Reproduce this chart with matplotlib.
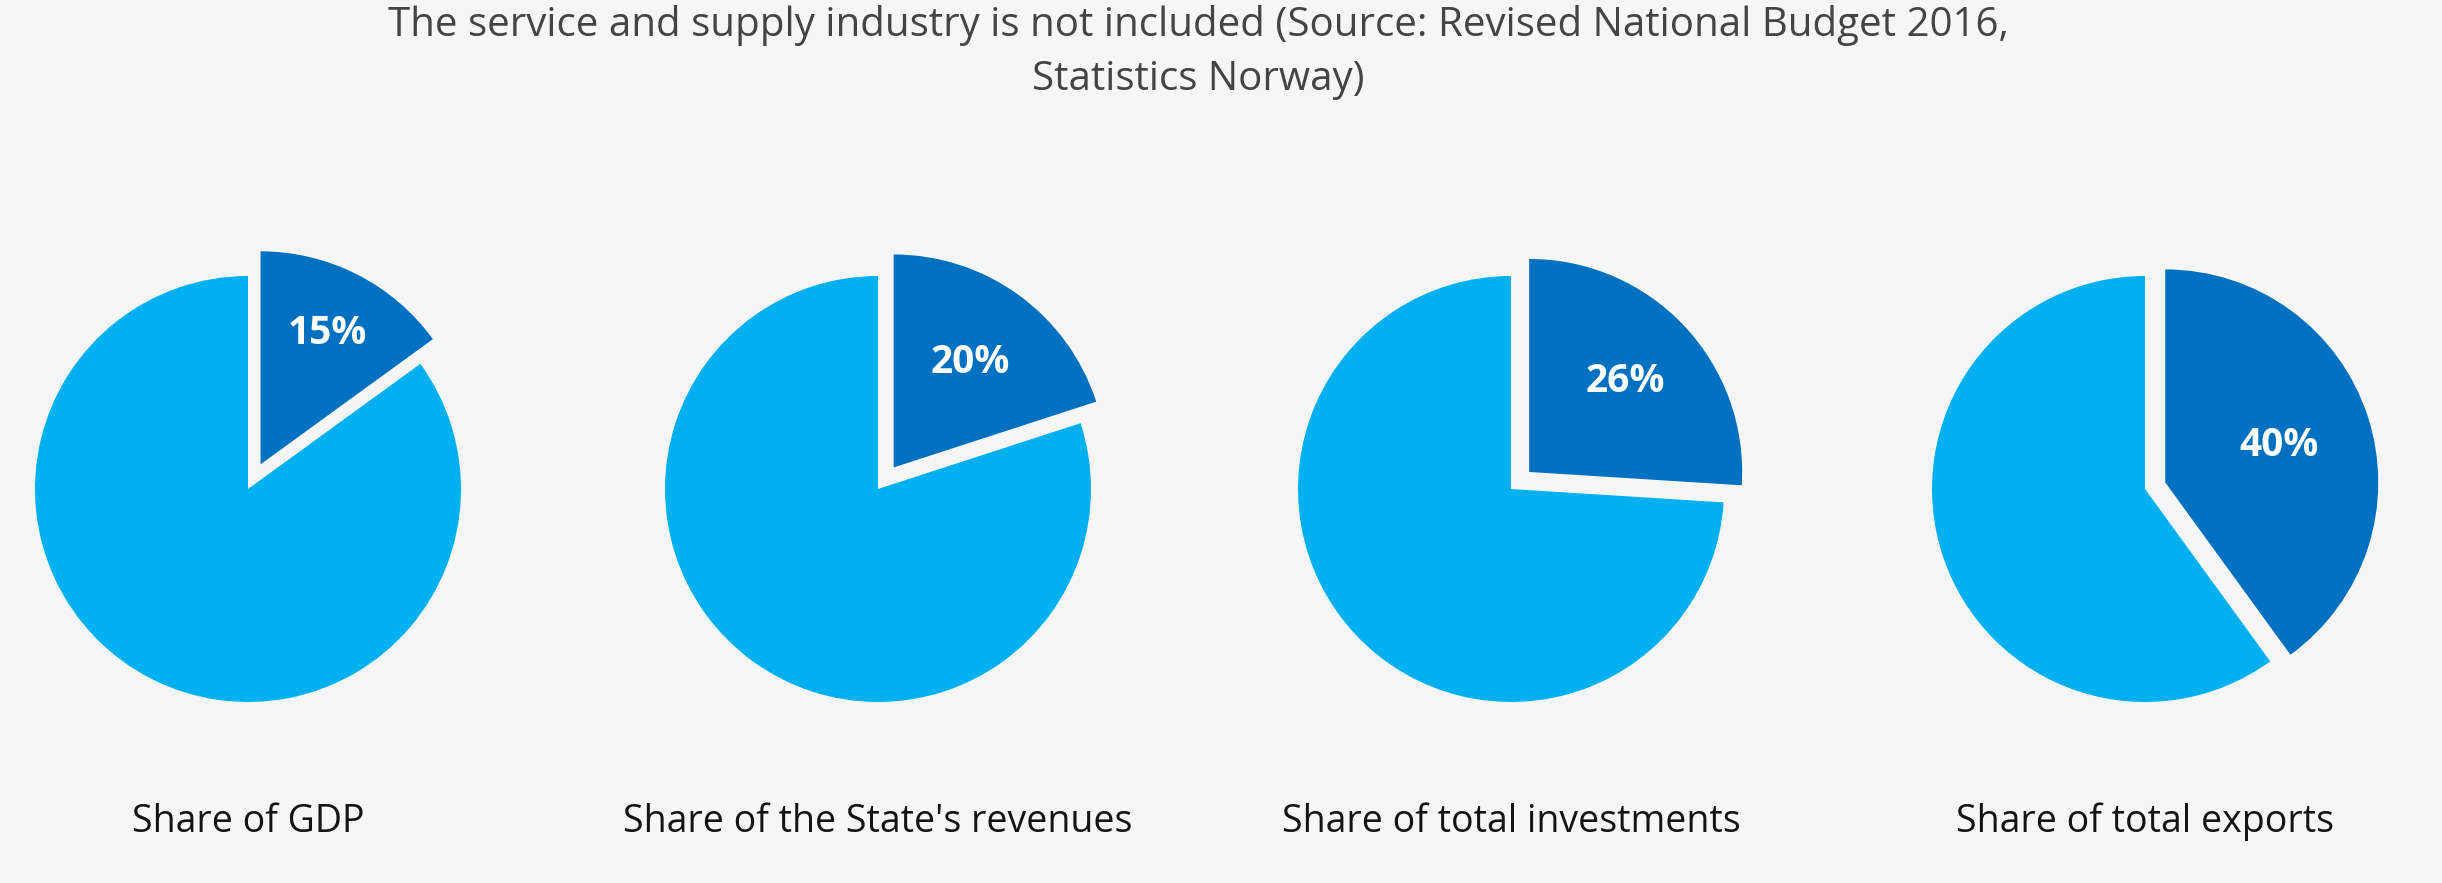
import matplotlib
matplotlib.use("Agg")
import matplotlib.pyplot as plt

# ---- data ----
shares = [15, 20, 26, 40]
categories = ["Share of GDP", "Share of the State's revenues",
              "Share of total investments", "Share of total exports"]
title_lines = ["The service and supply industry is not included (Source: Revised National Budget 2016,",
               "Statistics Norway)"]

# ---- style / layout ----
W, H = 2442, 883
BG = "#f6f6f6"
DARK = "#0070c0"
LIGHT = "#00b0f0"
explode_frac = [0.13, 0.125, 0.117, 0.10]
pct_dist = [0.69, 0.61, 0.62, 0.56]
centers_x = [248, 878, 1511, 2145]
center_y = 489
R = 213
LIM = 1.3

plt.rcParams['font.family'] = ['Open Sans', 'DejaVu Sans']
fig = plt.figure(figsize=(W / 100, H / 100), dpi=100, facecolor=BG)

side = 2 * R * LIM
for i, v in enumerate(shares):
    cx = centers_x[i]
    ax = fig.add_axes([(cx - side / 2) / W, (H - center_y - side / 2) / H, side / W, side / H])
    ax.set_facecolor(BG)
    ax.patch.set_alpha(0)
    wedges, texts, autotexts = ax.pie(
        [v, 100 - v], startangle=90, counterclock=False,
        colors=[DARK, LIGHT], explode=[explode_frac[i], 0],
        autopct=lambda p: f"{p:.0f}%", pctdistance=pct_dist[i],
        textprops=dict(color="white", fontsize=28, fontweight="bold"),
        wedgeprops=dict(linewidth=0))
    autotexts[1].set_text("")
    ax.set_xlim(-LIM, LIM)
    ax.set_ylim(-LIM, LIM)
    ax.set_aspect("equal")
    ax.axis("off")
    fig.text(cx / W, 1 - 822 / H, categories[i], ha="center", va="center",
             fontsize=27, color="#141414")

fig.text(1198 / W, 1 - 25 / H, title_lines[0], ha="center", va="center",
         fontsize=29, color="#444444")
fig.text(1198 / W, 1 - 80 / H, title_lines[1], ha="center", va="center",
         fontsize=29, color="#444444")

fig.savefig("out.png", dpi=100, facecolor=BG)
